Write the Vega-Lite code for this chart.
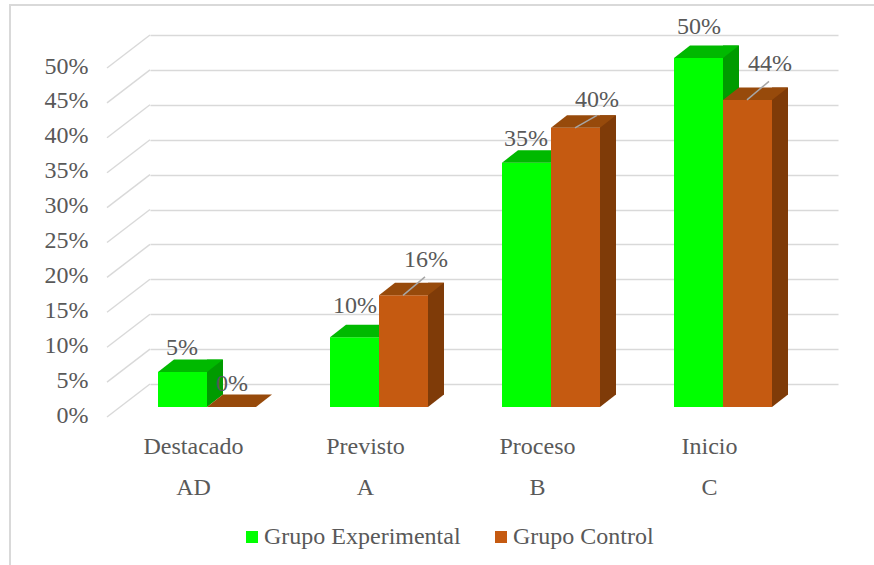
{
"$schema":"https://vega.github.io/schema/vega-lite/v6.json",
"width":688,"height":349,
"autosize":{"type":"none"},
"padding":{"left":150,"top":35,"right":36,"bottom":181},
"background":"#ffffff",
"config":{"view":{"stroke":null},"font":"Liberation Serif"},
"data":{"values":[
{"c":"Destacado|AD","g":"Grupo Experimental","v":0.05},
{"c":"Previsto|A","g":"Grupo Experimental","v":0.10},
{"c":"Proceso|B","g":"Grupo Experimental","v":0.35},
{"c":"Inicio|C","g":"Grupo Experimental","v":0.50},
{"c":"Destacado|AD","g":"Grupo Control","v":0.0},
{"c":"Previsto|A","g":"Grupo Control","v":0.16},
{"c":"Proceso|B","g":"Grupo Control","v":0.40},
{"c":"Inicio|C","g":"Grupo Control","v":0.44}
]},
"encoding":{
"x":{"field":"c","type":"nominal","title":null,
"scale":{"domain":["Destacado|AD","Previsto|A","Proceso|B","Inicio|C"],"paddingInner":0.43,"paddingOuter":0.215},
"axis":{"labelExpr":"split(datum.label,'|')","labelAngle":0,"labelOffset":-42.5,"labelPadding":50,"labelLineHeight":41,"labelFontSize":24,"labelColor":"#595959","labelBaseline":"top","domain":false,"ticks":false,"grid":false}},
"y":{"field":"v","type":"quantitative","title":null,
"scale":{"domain":[0,0.5],"nice":false},
"axis":{"values":[0,0.05,0.1,0.15,0.2,0.25,0.3,0.35,0.4,0.45,0.5],"format":".0%","labelOffset":31,"labelPadding":62,"labelFontSize":24,"labelColor":"#595959","domain":false,"ticks":false,"grid":true,"gridColor":"#d9d9d9","gridWidth":1.4}}
},
"layer":[
{"data":{"values":[{"v":0},{"v":0.05},{"v":0.1},{"v":0.15},{"v":0.2},{"v":0.25},{"v":0.3},{"v":0.35},{"v":0.4},{"v":0.45},{"v":0.5}]},
 "mark":{"type":"point","shape":"M-129,33L-86,0","size":4,"filled":false,"stroke":"#d9d9d9","strokeWidth":1.4,"opacity":1},
 "encoding":{"x":{"datum":"Destacado|AD"}}},
{"data":{"values":[{"v":0}]},
 "mark":{"type":"point","shape":"M-226,181L-226,-379L638,-379","size":4,"filled":false,"stroke":"#d9d9d9","strokeWidth":2,"opacity":1},
 "encoding":{"x":{"datum":"Destacado|AD"}}},

{"transform":[{"filter":"datum.g==='Grupo Experimental'"}],"mark":{"type":"bar","width":16,"fill":"#009b00","xOffset":-21,"yOffset":10.5,"y2Offset":10.5}},
{"transform":[{"filter":"datum.g==='Grupo Experimental'"}],"mark":{"type":"point","shape":"M-29,23L-13,10.5L-13,9L-29,9Z","size":4,"filled":true,"fill":"#009b00","strokeWidth":0,"opacity":1},"encoding":{"y":{"datum":0}}},
{"transform":[{"filter":"datum.g==='Grupo Experimental'"}],"mark":{"type":"bar","width":49,"xOffset":-53.5,"yOffset":23,"y2Offset":23},"encoding":{"fill":{"field":"g","type":"nominal","scale":{"domain":["Grupo Experimental","Grupo Control"],"range":["#00ff00","#c55a11"]},"legend":{"title":null,"orient":"none","legendX":90,"legendY":490,"direction":"horizontal","symbolType":"square","symbolSize":144,"symbolStrokeWidth":0,"labelFontSize":24,"labelColor":"#595959","labelOffset":0,"labelLimit":400,"columnPadding":28}}}},
{"transform":[{"filter":"datum.g==='Grupo Experimental'"}],"mark":{"type":"point","shape":"M-78,23L-29,23L-13,10.5L-62,10.5Z","size":4,"filled":true,"fill":"#00b900","strokeWidth":0,"opacity":1}},

{"transform":[{"filter":"datum.g==='Grupo Control'&&datum.v>0"}],"mark":{"type":"bar","width":16,"fill":"#7f3b08","xOffset":28,"yOffset":10.5,"y2Offset":10.5}},
{"transform":[{"filter":"datum.g==='Grupo Control'&&datum.v>0"}],"mark":{"type":"point","shape":"M20,23L36,10.5L36,9L20,9Z","size":4,"filled":true,"fill":"#7f3b08","strokeWidth":0,"opacity":1},"encoding":{"y":{"datum":0}}},
{"transform":[{"filter":"datum.g==='Grupo Control'"}],"mark":{"type":"bar","width":49,"xOffset":-4.5,"yOffset":23,"y2Offset":23},"encoding":{"fill":{"field":"g","type":"nominal"}}},
{"transform":[{"filter":"datum.g==='Grupo Control'"}],"mark":{"type":"point","shape":"M-29,23L20,23L36,10.5L-13,10.5Z","size":4,"filled":true,"fill":"#974a0b","strokeWidth":0,"opacity":1}},

{"transform":[{"filter":"datum.v===0.16||datum.v===0.44"}],"mark":{"type":"point","shape":"M-5,23L17,4.5","size":4,"filled":false,"stroke":"#a6a6a6","strokeWidth":1.5,"opacity":1}},
{"transform":[{"filter":"datum.v===0.4"}],"mark":{"type":"point","shape":"M-5,23L17,10.5","size":4,"filled":false,"stroke":"#a6a6a6","strokeWidth":1.5,"opacity":1}},

{"transform":[{"filter":"datum.v===0.05||datum.v===0.35"}],"mark":{"type":"text","fontSize":24,"fill":"#595959","xOffset":-54,"yOffset":-1},"encoding":{"text":{"field":"v","format":".0%"}}},
{"transform":[{"filter":"datum.v===0.1||datum.v===0.5"}],"mark":{"type":"text","fontSize":24,"fill":"#595959","xOffset":-53,"yOffset":-8},"encoding":{"text":{"field":"v","format":".0%"}}},
{"transform":[{"filter":"datum.v===0"}],"mark":{"type":"text","fontSize":24,"fill":"#595959","xOffset":-4,"yOffset":0},"encoding":{"text":{"field":"v","format":".0%"}}},
{"transform":[{"filter":"datum.v===0.16||datum.v===0.44"}],"mark":{"type":"text","fontSize":24,"fill":"#595959","xOffset":18,"yOffset":-12.5},"encoding":{"text":{"field":"v","format":".0%"}}},
{"transform":[{"filter":"datum.v===0.4"}],"mark":{"type":"text","fontSize":24,"fill":"#595959","xOffset":17,"yOffset":-5},"encoding":{"text":{"field":"v","format":".0%"}}}
]
}
